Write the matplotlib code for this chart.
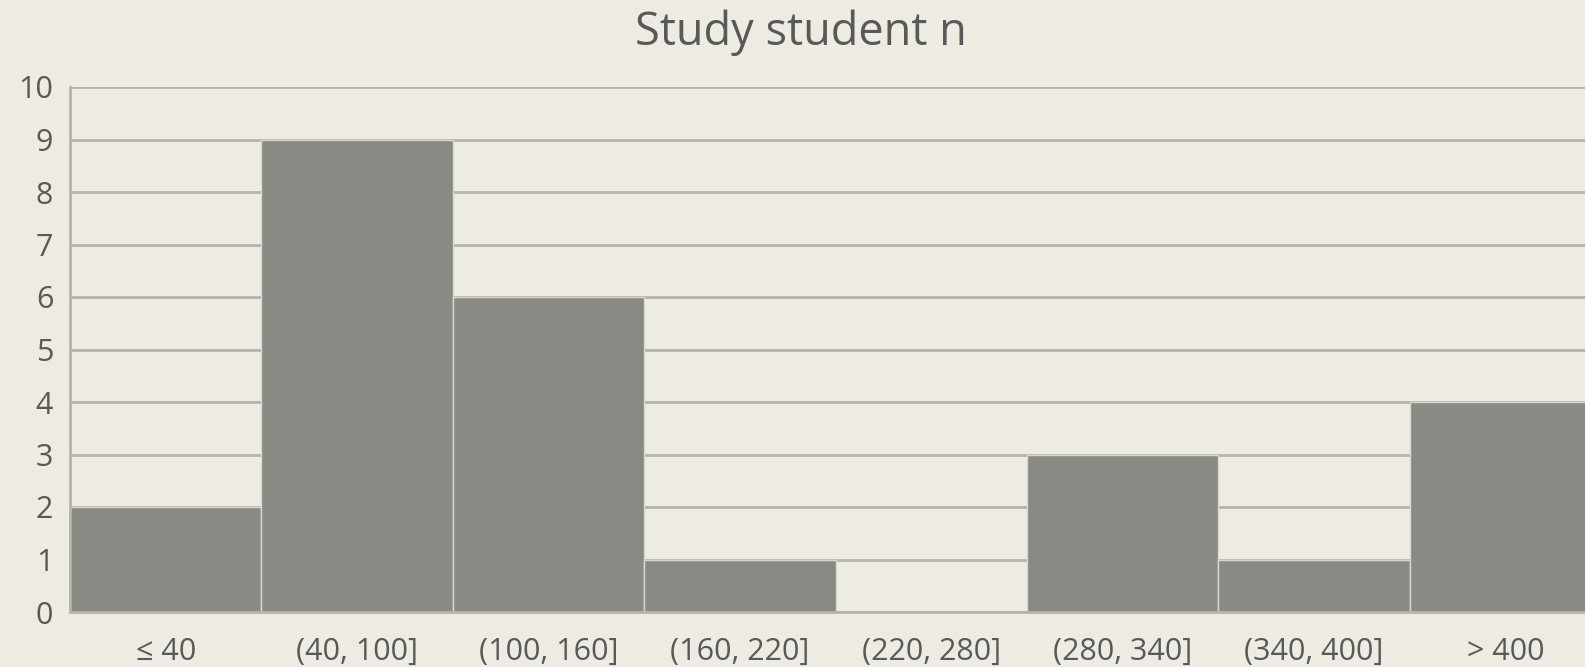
import matplotlib
matplotlib.use("Agg")
import matplotlib.pyplot as plt

categories = ["\u2264 40", "(40, 100]", "(100, 160]", "(160, 220]", "(220, 280]",
              "(280, 340]", "(340, 400]", "> 400"]
counts = [2, 9, 6, 1, 0, 3, 1, 4]
y_ticks = list(range(0, 11))

BG = "#eeebe3"
BAR = "#8a8a85"
GRID = "#b5b3ae"
TEXT = "#595959"

plt.rcParams["font.family"] = ["Open Sans", "DejaVu Sans"]

W, H = 1585, 667
fig = plt.figure(figsize=(W / 100, H / 100), dpi=100, facecolor=BG)
left, right, top, bottom = 70, 1601, 87, 612
ax = fig.add_axes([left / W, (H - bottom) / H, (right - left) / W, (bottom - top) / H])
ax.set_facecolor(BG)

x = range(len(categories))
ax.bar(x, counts, width=1.0, color=BAR, edgecolor="#d9d7d0", linewidth=1.0, zorder=2)

ax.set_xlim(-0.5, len(categories) - 0.5)
ax.set_ylim(0, 10)
ax.set_yticks(y_ticks)
ax.set_xticks(list(x))
ax.set_xticklabels(categories)
ax.yaxis.grid(True, color=GRID, linewidth=2.0, zorder=1)
ax.set_axisbelow(True)

for s in ["top", "right"]:
    ax.spines[s].set_visible(False)
for s in ["left", "bottom"]:
    ax.spines[s].set_color(GRID)
    ax.spines[s].set_linewidth(2.0)
    ax.spines[s].set_zorder(3)

ax.tick_params(axis="both", length=0, colors=TEXT, labelsize=22)
ax.tick_params(axis="y", pad=12)
ax.tick_params(axis="x", pad=18)

fig.text(801 / W, 1 - 45 / H, "Study student n", ha="center", va="baseline",
         fontsize=32.5, color=TEXT)

fig.savefig("out.png", dpi=100, facecolor=BG)
